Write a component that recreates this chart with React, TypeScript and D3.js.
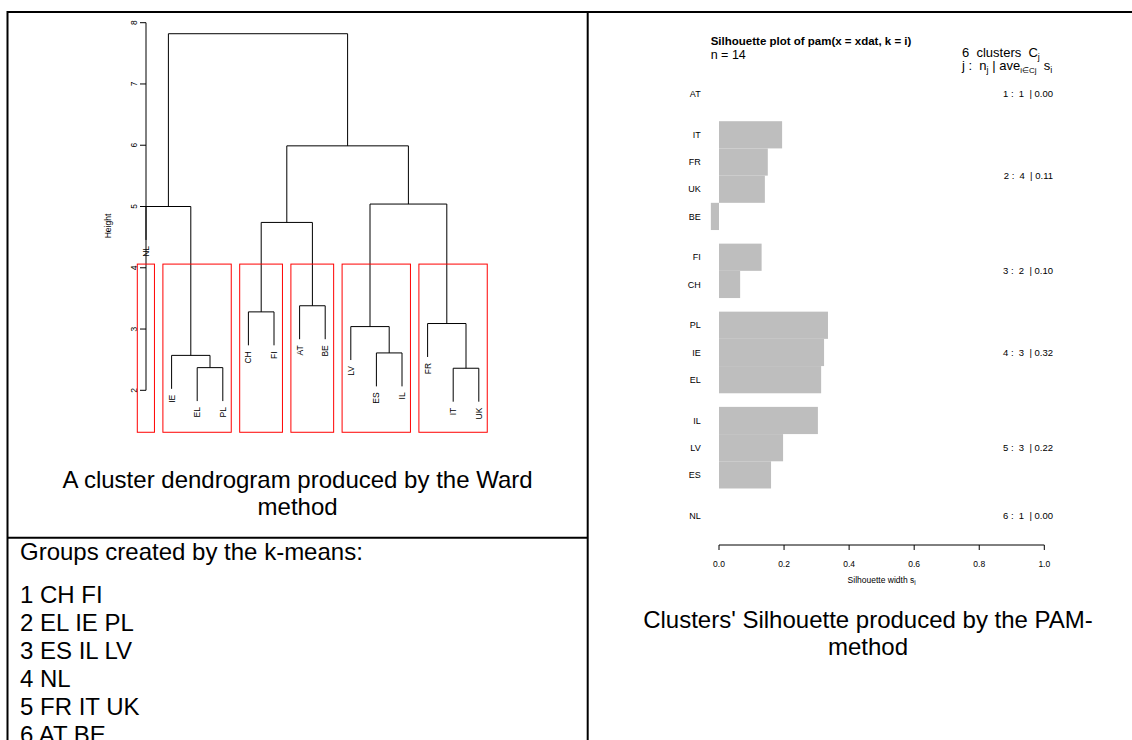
import * as d3 from "d3";

// ---- Ward dendrogram data (leaves in plotted order) ----
const leaves = ["NL", "IE", "EL", "PL", "CH", "FI", "AT", "BE", "LV", "ES", "IL", "FR", "IT", "UK"];
// R-style merge matrix: negative = leaf index (1-based), positive = earlier merge step
const mergeLeft = [-13, -3, -2, -10, -9, -12, -5, -7, 7, -1, 5, 9, 10];
const mergeRight = [-14, -4, 2, -11, 4, 1, -6, -8, 8, 3, 6, 11, 12];
const mergeHeight = [2.36, 2.37, 2.57, 2.61, 3.04, 3.09, 3.28, 3.38, 4.74, 5.0, 5.04, 5.99, 7.82];
const heightTicks = [2, 3, 4, 5, 6, 7, 8];
const kCut = 6;
const plotBottom = 1.315; // par("usr")[3] of the dendrogram

// ---- PAM silhouette data (top to bottom) ----
const silLabels = ["AT", "IT", "FR", "UK", "BE", "FI", "CH", "PL", "IE", "EL", "IL", "LV", "ES", "NL"];
const silCluster = [1, 2, 2, 2, 2, 3, 3, 4, 4, 4, 5, 5, 5, 6];
const silWidth = [0, 0.194, 0.15, 0.141, -0.025, 0.131, 0.065, 0.335, 0.323, 0.314, 0.304, 0.197, 0.16, 0];
const clusterSize = [1, 4, 2, 3, 3, 1];
const clusterAvg = [0.0, 0.11, 0.1, 0.32, 0.22, 0.0];
const silTicks = [0, 0.2, 0.4, 0.6, 0.8, 1.0];

// ---- k-means text ----
const kmeansGroups = ["1 CH FI", "2 EL IE PL", "3 ES IL LV", "4 NL", "5 FR IT UK", "6 AT BE"];

const FONT = "'Liberation Sans', Arial, Helvetica, sans-serif";

function Dendrogram() {
  const x = d3.scaleLinear().domain([1, leaves.length]).range([146, 478.8]);
  const y = d3.scaleLinear().domain([2, 8]).range([390.3, 22.7]);
  const hang = 0.1 * (d3.max(mergeHeight)! - d3.min(mergeHeight)!);

  // x position of every node
  const nodeX = (id: number): number =>
    id < 0 ? x(-id) : (nodeX(mergeLeft[id - 1]) + nodeX(mergeRight[id - 1])) / 2;

  const paths: string[] = [];
  const labels: { name: string; x: number; y: number }[] = [];
  mergeHeight.forEach((h, i) => {
    const a = mergeLeft[i];
    const b = mergeRight[i];
    const ha = a < 0 ? h - hang : mergeHeight[a - 1];
    const hb = b < 0 ? h - hang : mergeHeight[b - 1];
    const p = d3.path();
    p.moveTo(nodeX(a), y(ha));
    p.lineTo(nodeX(a), y(h));
    p.lineTo(nodeX(b), y(h));
    p.lineTo(nodeX(b), y(hb));
    paths.push(p.toString());
    if (a < 0) labels.push({ name: leaves[-a - 1], x: nodeX(a), y: y(ha) });
    if (b < 0) labels.push({ name: leaves[-b - 1], x: nodeX(b), y: y(hb) });
  });

  // rect.hclust(k = 6)
  const sorted = [...mergeHeight].sort((p, q) => q - p);
  const cut = (sorted[kCut - 2] + sorted[kCut - 1]) / 2;
  const groups: [number, number][] = [];
  const leafRange = (id: number): [number, number] => {
    if (id < 0) return [-id, -id];
    const l = leafRange(mergeLeft[id - 1]);
    const r = leafRange(mergeRight[id - 1]);
    return [Math.min(l[0], r[0]), Math.max(l[1], r[1])];
  };
  const walk = (id: number) => {
    if (id < 0 || mergeHeight[id - 1] < cut) groups.push(leafRange(id));
    else {
      walk(mergeLeft[id - 1]);
      walk(mergeRight[id - 1]);
    }
  };
  walk(mergeHeight.length);

  return (
    <g fontFamily={FONT}>
      {/* y axis */}
      <line x1={x(1)} x2={x(1)} y1={y(2)} y2={y(8)} stroke="#000" />
      {heightTicks.map(t => (
        <g key={t}>
          <line x1={x(1) - 6} x2={x(1)} y1={y(t)} y2={y(t)} stroke="#000" />
          <text transform={`translate(136.7,${y(t)}) rotate(-90)`} textAnchor="middle" fontSize={8.5}>{t}</text>
        </g>
      ))}
      <text transform="translate(111,226) rotate(-90)" textAnchor="middle" fontSize={8.5}>Height</text>
      {paths.map((d, i) => (
        <path key={i} d={d} fill="none" stroke="#000" strokeWidth={1} />
      ))}
      {labels.map(l => (
        <text key={l.name} transform={`translate(${l.x},${l.y + 6}) rotate(-90)`} textAnchor="end" dy="0.35em" fontSize={8.5}>
          {l.name}
        </text>
      ))}
      {groups.map(([lo, hi], i) => (
        <rect key={i} x={x(lo - 0.34)} width={x(hi + 0.33) - x(lo - 0.34)} y={y(cut)} height={y(plotBottom) - y(cut)}
          fill="none" stroke="#ff0000" strokeWidth={1} />
      ))}
    </g>
  );
}

function Silhouette() {
  // bar positions: clusters separated by half a bar
  const pos: number[] = [];
  silCluster.forEach((c, i) => {
    pos.push(i === 0 ? 0 : pos[i - 1] + 1 + (c !== silCluster[i - 1] ? 0.5 : 0));
  });
  const y = d3.scaleLinear().domain([0, pos[pos.length - 1]]).range([94, 515.7]);
  const x = d3.scaleLinear().domain([0, 1]).range([719, 1044.3]);
  const bh = y(1) - y(0);
  const clusters = d3.range(1, clusterSize.length + 1);

  return (
    <g fontFamily={FONT}>
      <text x={710.7} y={45} fontSize={11.5} fontWeight="bold">Silhouette plot of pam(x = xdat, k = i)</text>
      <text x={710.7} y={59} fontSize={12.5}>n = 14</text>
      <text x={962} y={57} fontSize={13} xmlSpace="preserve">
        {`${clusterSize.length}  clusters  C`}
        <tspan fontSize={9} dy={2.5}>j</tspan>
      </text>
      <text x={962} y={70} fontSize={13} xmlSpace="preserve">
        {"j :  n"}
        <tspan fontSize={9} dy={2.5}>j</tspan>
        <tspan dy={-2.5}>{" | ave"}</tspan>
        <tspan fontSize={8} dy={2.5}>{"i∈Cj"}</tspan>
        <tspan dy={-2.5}>{"  s"}</tspan>
        <tspan fontSize={9} dy={2.5}>i</tspan>
      </text>
      {silWidth.map((w, i) => (
        <rect key={i} x={x(Math.min(0, w))} width={Math.abs(x(w) - x(0))} y={y(pos[i]) - bh / 2} height={bh} fill="#bebebe" />
      ))}
      {silLabels.map((l, i) => (
        <text key={l} x={700.7} y={y(pos[i])} dy="0.35em" textAnchor="end" fontSize={9}>{l}</text>
      ))}
      {clusters.map(j => {
        const ys = pos.filter((_, i) => silCluster[i] === j).map(p => y(p));
        return (
          <text key={j} x={1053} y={d3.mean(ys)} dy="0.35em" textAnchor="end" fontSize={9.5} xmlSpace="preserve">
            {`${j} :  ${clusterSize[j - 1]}  | ${clusterAvg[j - 1].toFixed(2)}`}
          </text>
        );
      })}
      {/* x axis */}
      <line x1={x(0)} x2={x(1)} y1={545} y2={545} stroke="#000" />
      {silTicks.map(t => (
        <g key={t}>
          <line x1={x(t)} x2={x(t)} y1={545} y2={550} stroke="#000" />
          <text x={x(t)} y={567.3} textAnchor="middle" fontSize={8.5}>{t.toFixed(1)}</text>
        </g>
      ))}
      <text x={x(0.5)} y={583} textAnchor="middle" fontSize={8.5}>
        Silhouette width s<tspan fontSize={6.5} dy={2}>i</tspan>
      </text>
    </g>
  );
}

export default function App() {
  const capSize = 24;
  return (
    <svg width={1132} height={740} style={{ position: "absolute", left: 0, top: 0, background: "#fff" }}>
      {/* table borders */}
      <g stroke="#000" strokeWidth={2}>
        <line x1={7.5} x2={1132} y1={12} y2={12} />
        <line x1={7.5} x2={7.5} y1={11} y2={740} />
        <line x1={587.7} x2={587.7} y1={11} y2={740} />
        <line x1={7.5} x2={587.7} y1={537.7} y2={537.7} />
      </g>
      <Dendrogram />
      <Silhouette />
      <g fontFamily={FONT} fontSize={capSize} fill="#000">
        <text x={297.6} y={488.3} textAnchor="middle">A cluster dendrogram produced by the Ward</text>
        <text x={297.6} y={515} textAnchor="middle">method</text>
        <text x={868} y={628.3} textAnchor="middle">Clusters' Silhouette produced by the PAM-</text>
        <text x={868} y={655} textAnchor="middle">method</text>
        <text x={20} y={560}>Groups created by the k-means:</text>
        {kmeansGroups.map((g, i) => (
          <text key={g} x={20} y={603.3 + i * 27.9}>{g}</text>
        ))}
      </g>
    </svg>
  );
}
